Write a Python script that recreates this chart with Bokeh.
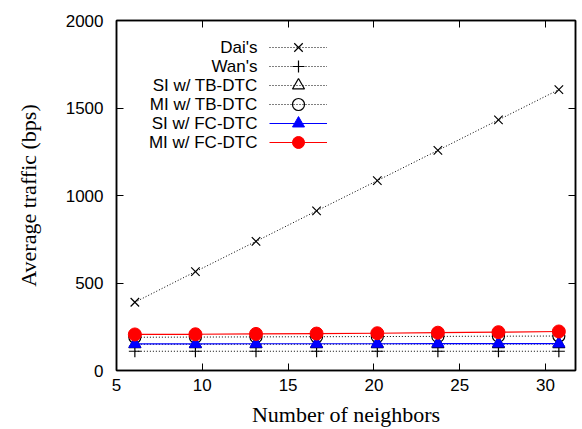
from bokeh.plotting import figure
from bokeh.models import Range1d, LinearAxis, Legend, LegendItem, Label, FixedTicker
from bokeh.embed import file_html
from bokeh.resources import INLINE

neighbors = [6.07, 9.6, 13.13, 16.66, 20.2, 23.73, 27.26, 30.78]
dai = [390, 565, 738, 912, 1085, 1258, 1432, 1605]
wan = [110, 110, 110, 110, 110, 110, 110, 110]
si_tb = [150, 150, 150, 150, 151, 151, 151, 151]
mi_tb = [190, 191, 192, 193, 194, 195, 196, 197]
si_fc = [152, 152, 153, 153, 153, 154, 154, 154]
mi_fc = [206, 207, 209, 211, 213, 216, 219, 223]
labels = ["Dai's", "Wan's", "SI w/ TB-DTC", "MI w/ TB-DTC", "SI w/ FC-DTC", "MI w/ FC-DTC"]
x_ticks = [5, 10, 15, 20, 25, 30]
y_ticks = [0, 500, 1000, 1500, 2000]

SANS = "Liberation Sans"
SERIF = "Liberation Serif"

p = figure(width=582, height=429, output_backend="svg", toolbar_location=None,
           x_range=Range1d(5, 31.75), y_range=Range1d(0, 2000),
           min_border_left=116, min_border_right=7, min_border_top=20, min_border_bottom=59)
p.grid.visible = False
p.outline_line_color = "black"
p.outline_line_width = 1.5
p.background_fill_color = "white"

def style_axis(ax):
    ax.axis_line_color = "black"
    ax.axis_line_width = 1.5
    ax.major_tick_in = 7
    ax.major_tick_out = 0
    ax.minor_tick_in = 0
    ax.minor_tick_out = 0
    ax.major_tick_line_width = 1
    ax.major_label_text_font = SANS
    ax.major_label_text_font_size = "17px"
    ax.major_label_text_color = "black"
    ax.axis_label_text_font = SERIF
    ax.axis_label_text_font_size = "22px"
    ax.axis_label_text_font_style = "normal"
    ax.axis_label_text_color = "black"

p.xaxis.ticker = FixedTicker(ticks=x_ticks)
p.yaxis.ticker = FixedTicker(ticks=y_ticks)
style_axis(p.xaxis[0])
style_axis(p.yaxis[0])
p.xaxis.axis_label = "Number of neighbors"
p.yaxis.axis_label = "Average traffic (bps)"
p.xaxis.major_label_standoff = 8
p.yaxis.major_label_standoff = 13
p.xaxis.axis_label_standoff = 8
p.yaxis.axis_label_standoff = 22

top = LinearAxis(ticker=FixedTicker(ticks=x_ticks),
                 major_label_overrides={t: "" for t in x_ticks})
right = LinearAxis(ticker=FixedTicker(ticks=y_ticks),
                   major_label_overrides={t: "" for t in y_ticks})
style_axis(top)
style_axis(right)
top.major_label_standoff = 0
right.major_label_standoff = 0
p.add_layout(top, "above")
p.add_layout(right, "right")

dot = "1 2"
l1 = p.line(neighbors, dai, line_color="black", line_width=1, line_dash=dot)
m1 = p.scatter(neighbors, dai, marker="x", size=12, line_color="black", line_width=1.2)
l2 = p.line(neighbors, wan, line_color="black", line_width=1, line_dash=dot)
m2 = p.scatter(neighbors, wan, marker="cross", size=12, line_color="black", line_width=1.2)
l3 = p.line(neighbors, si_tb, line_color="black", line_width=1, line_dash=dot)
m3 = p.scatter(neighbors, si_tb, marker="triangle", size=12, line_color="black", fill_color=None, line_width=1.2)
l4 = p.line(neighbors, mi_tb, line_color="black", line_width=1, line_dash=dot)
m4 = p.scatter(neighbors, mi_tb, marker="circle", size=12, line_color="black", fill_color=None, line_width=1.2)
l5 = p.line(neighbors, si_fc, line_color="blue", line_width=1.2)
m5 = p.scatter(neighbors, si_fc, marker="triangle", size=12, line_color="blue", fill_color="blue")
l6 = p.line(neighbors, mi_fc, line_color="red", line_width=1.2)
m6 = p.scatter(neighbors, mi_fc, marker="circle", size=13, line_color="red", fill_color="red")

pairs = [(l1, m1), (l2, m2), (l3, m3), (l4, m4), (l5, m5), (l6, m6)]
for i, (a, b) in enumerate(pairs):
    cy = 323 - 19 * i
    lg = Legend(items=[LegendItem(label=" ", renderers=[a, b])], location=(153, cy - 15),
                glyph_width=58, glyph_height=30, label_height=30, padding=0, margin=0,
                label_standoff=0, label_text_font_size="17px",
                border_line_alpha=0, background_fill_alpha=0)
    p.add_layout(lg, "center")
    p.add_layout(Label(x=141, y=cy, x_units="screen", y_units="screen", text=labels[i],
                       text_align="right", text_baseline="middle", text_font=SANS,
                       text_font_size="17px", text_color="black"))

open("out.html", "w").write(file_html(p, INLINE))
